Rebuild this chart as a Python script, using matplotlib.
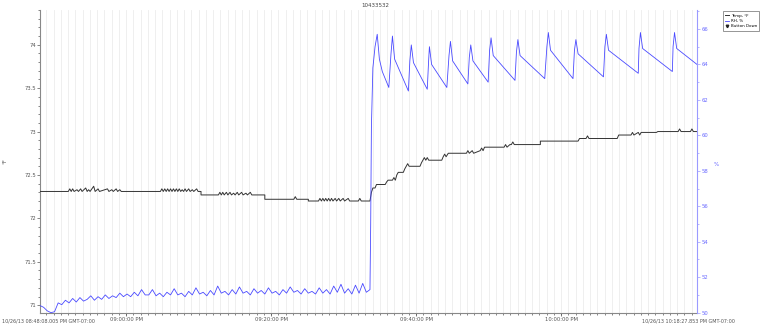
import matplotlib
matplotlib.use("Agg")
import matplotlib.pyplot as plt
from matplotlib.ticker import MultipleLocator

# x values are minutes since 10/26/13 08:48:08 PM
title = "10433532"
start_label = "10/26/13 08:48:08.005 PM GMT-07:00"
end_label = "10/26/13 10:18:27.853 PM GMT-07:00"
x_major_min = [11.87, 31.87, 51.87, 71.87]
x_major_labels = ["09:00:00 PM", "09:20:00 PM", "09:40:00 PM", "10:00:00 PM"]
x_end = 90.6

temp_t = [0, 3.9, 4.1, 4.3, 4.5, 4.7, 5.1, 5.3, 5.6, 5.8, 6.3, 6.5, 6.7, 6.9, 7.4, 7.6, 8.0, 8.2,
          9.3, 9.5, 9.9, 10.1, 10.5, 10.7, 11.0, 11.2,
          16.6, 16.8, 17.0, 17.2, 17.4, 17.6, 17.8, 18.0, 18.2, 18.4, 18.6, 18.8, 19.0, 19.2, 19.4,
          19.6, 19.8, 20.0, 20.2, 20.5, 20.7, 21.0, 21.2, 21.6, 21.8, 22.2, 22.2,
          24.6, 24.8, 25.0, 25.2, 25.4, 25.7, 25.9, 26.2, 26.4, 26.7, 26.9, 27.2, 27.4, 27.8, 28.0,
          28.4, 28.6, 29.0, 29.2, 31.0, 31.0,
          35.0, 35.2, 35.4, 37.0, 37.0,
          38.4, 38.6, 38.8, 39.0, 39.2, 39.4, 39.6, 39.8, 40.0, 40.2, 40.4, 40.7, 40.9, 41.2, 41.4,
          41.8, 42.0, 42.5, 42.7, 43.9, 44.1, 44.3, 45.5,
          45.7, 45.9, 46.2, 46.4, 47.6, 47.8, 48.0, 48.6, 48.8, 49.0, 49.2, 49.4, 50.1, 50.3, 50.5,
          50.7, 50.9, 52.4, 52.6, 52.8, 53.0, 53.2, 53.4, 53.6, 55.4, 55.6, 55.8, 56.0, 56.3, 58.8,
          59.0, 59.2, 59.6, 59.8, 60.7, 60.9, 61.1, 61.3, 64.0, 64.2, 64.4, 64.8, 65.0, 65.2, 65.4,
          69.0, 69.0, 74.2, 74.4, 75.3, 75.5, 75.7, 79.6, 79.8, 81.5, 81.7, 81.9, 82.5, 82.7, 82.9,
          83.2, 85.0, 85.2, 88.0, 88.2, 88.4, 89.7, 89.9, 90.1, 90.6]
temp_v = [72.31, 72.31, 72.34, 72.31, 72.34, 72.31, 72.33, 72.31, 72.34, 72.31, 72.35, 72.31, 72.33,
          72.31, 72.37, 72.31, 72.34, 72.31,
          72.34, 72.31, 72.33, 72.31, 72.34, 72.31, 72.33, 72.31,
          72.31, 72.34, 72.31, 72.34, 72.31, 72.34, 72.31, 72.34, 72.31, 72.34, 72.31, 72.34, 72.31,
          72.34, 72.31, 72.33, 72.31, 72.34, 72.31, 72.34, 72.31, 72.33, 72.31, 72.34, 72.31, 72.31,
          72.27,
          72.27, 72.30, 72.27, 72.30, 72.27, 72.30, 72.27, 72.30, 72.27, 72.29, 72.27, 72.30, 72.27,
          72.30, 72.27, 72.29, 72.27, 72.30, 72.27, 72.27, 72.22,
          72.22, 72.25, 72.22, 72.22, 72.20,
          72.20, 72.23, 72.20, 72.23, 72.20, 72.23, 72.20, 72.23, 72.20, 72.23, 72.20, 72.23, 72.20,
          72.23, 72.20, 72.23, 72.20, 72.23, 72.20, 72.20, 72.23, 72.20, 72.20,
          72.30, 72.35, 72.35, 72.39, 72.39, 72.42, 72.44, 72.44, 72.47, 72.44, 72.50, 72.53, 72.53,
          72.57, 72.60, 72.63, 72.60, 72.60, 72.64, 72.67, 72.70, 72.67, 72.70, 72.67, 72.67, 72.71,
          72.74, 72.71, 72.75, 72.75, 72.78, 72.75, 72.78, 72.75, 72.78, 72.81, 72.78, 72.82, 72.82,
          72.85, 72.82, 72.85, 72.85, 72.88, 72.85, 72.85, 72.89, 72.89, 72.92, 72.92, 72.95, 72.92,
          72.92, 72.96, 72.96, 72.99, 72.96, 72.99, 72.96, 72.99, 72.99, 72.99, 73.00, 73.00, 73.03,
          73.00, 73.00, 73.03, 73.00, 73.00]

# RH before the jump, sampled every half minute from 0 to 45.5
rh_pre = [50.40, 50.30, 50.10, 50.00, 50.05, 50.55, 50.45, 50.70, 50.55, 50.80,
          50.60, 50.85, 50.65, 50.75, 50.95, 50.70, 50.90, 50.75, 51.00, 50.80,
          50.95, 50.85, 51.10, 50.90, 51.05, 50.90, 51.15, 50.95, 51.30, 51.00,
          51.00, 51.30, 50.95, 51.10, 50.90, 51.15, 51.00, 51.35, 51.00, 51.10,
          50.90, 51.20, 51.00, 51.40, 51.05, 51.15, 50.95, 51.25, 51.00, 51.50,
          51.10, 51.20, 51.00, 51.30, 51.05, 51.45, 51.10, 51.20, 51.00, 51.35,
          51.10, 51.25, 51.05, 51.40, 51.10, 51.20, 51.00, 51.30, 51.10, 51.45,
          51.15, 51.25, 51.05, 51.35, 51.10, 51.20, 51.05, 51.40, 51.10, 51.30,
          51.05, 51.50, 51.15, 51.60, 51.10, 51.35, 51.05, 51.55, 51.10, 51.65,
          51.15, 51.30]
rh_pre_t = [i * 0.5 for i in range(len(rh_pre))]

rh_post_t = [45.6, 45.7, 45.9, 46.2, 46.5, 46.8, 47.2, 48.1,
             48.4, 48.6, 48.9, 50.8, 51.0, 51.2, 51.5, 53.4, 53.6, 53.7, 54.0, 56.1,
             56.4, 56.6, 56.9, 59.0, 59.2, 59.4, 59.7, 61.8, 62.0, 62.2, 62.5, 65.5,
             65.7, 65.9, 66.2, 69.6, 69.9, 70.1, 70.4, 73.5, 73.7, 73.9, 74.2, 77.7,
             77.9, 78.1, 78.4, 82.5, 82.6, 82.8, 83.1, 87.2, 87.3, 87.5, 87.8, 90.6]
rh_post_v = [55.0, 60.5, 63.8, 65.0, 65.7, 64.3, 63.6, 62.7,
             64.6, 65.6, 64.3, 62.5, 64.2, 65.1, 64.1, 62.6, 64.3, 65.0, 64.0, 62.7,
             64.5, 65.3, 64.2, 62.9, 64.4, 65.1, 64.2, 63.0, 64.8, 65.5, 64.5, 63.1,
             64.7, 65.4, 64.5, 63.2, 65.0, 65.8, 64.8, 63.2, 64.8, 65.4, 64.6, 63.3,
             65.0, 65.7, 64.8, 63.5, 64.9, 65.8, 64.9, 63.6, 65.0, 65.8, 64.9, 64.0]

GRID = "#ececec"
BLUE = "#4a4aff"
AXIS_BLUE = "#9a9aff"
GREY = "#888888"

fig = plt.figure(figsize=(7.61, 3.27), dpi=100)
ax = fig.add_axes([0.0526, 0.0428, 0.8633, 0.9266])
ax2 = ax.twinx()

# one grid line per minute
first_minute = 0.867
grid_x = [first_minute + i for i in range(int(x_end - first_minute) + 1)]
for gx in grid_x:
    ax.axvline(gx, color=GRID, lw=0.6, zorder=0)

h_temp, = ax.plot(temp_t, temp_v, color="#333333", lw=0.7, label="Temp, °F", zorder=3)
h_rh, = ax2.plot(rh_pre_t + rh_post_t, rh_pre + rh_post_v, color=BLUE, lw=0.6, label="RH, %")
h_btn, = ax.plot([], [], "v", color="#222222", markersize=1.8, label="Button Down")

ax.set_xlim(0, x_end)
ax.set_ylim(70.91, 74.40)
ax2.set_ylim(49.98, 67.07)

ax.set_xticks(grid_x, minor=True)
ax.set_xticks(x_major_min)
ax.set_xticklabels(x_major_labels)
ax.yaxis.set_major_locator(MultipleLocator(0.5))
ax.yaxis.set_minor_locator(MultipleLocator(0.1))
ax2.yaxis.set_major_locator(MultipleLocator(2))
ax2.yaxis.set_minor_locator(MultipleLocator(1))
ax.yaxis.set_major_formatter(plt.FuncFormatter(lambda v, p: f"{v:g}"))

for a in (ax, ax2):
    for s in a.spines.values():
        s.set_visible(False)
ax.spines["left"].set_visible(True)
ax.spines["left"].set_color(GREY)
ax.spines["bottom"].set_visible(True)
ax.spines["bottom"].set_color(GREY)
ax2.spines["right"].set_visible(True)
ax2.spines["right"].set_color(AXIS_BLUE)

ax.tick_params(axis="both", which="both", labelsize=3.8, colors="#555555", length=2, width=0.5, pad=1)
ax.tick_params(axis="both", which="minor", length=1.5)
ax2.tick_params(axis="y", which="both", labelsize=3.8, colors=AXIS_BLUE, labelcolor="#6a6aff",
                length=2, width=0.5, pad=1)
ax2.tick_params(axis="y", which="minor", length=1.5)

ax.set_ylabel("°F", fontsize=4, color="#555555", labelpad=12)
ax2.set_ylabel("%", fontsize=4, color="#6a6aff", labelpad=6, rotation=0)

fig.text(0.493, 0.99, title, ha="center", va="top", fontsize=4, color="#444444")
fig.text(0.003, 0.01, start_label, ha="left", va="bottom", fontsize=3.5, color="#555555")
fig.text(0.966, 0.01, end_label, ha="right", va="bottom", fontsize=3.5, color="#555555")

leg = fig.legend([h_temp, h_rh, h_btn], ["Temp, °F", "RH, %", "Button Down"],
                 loc="upper left", bbox_to_anchor=(0.950, 0.966), fontsize=2.9, frameon=True,
                 fancybox=False, handlelength=1.0, borderpad=0.6, labelspacing=0.35,
                 handletextpad=0.3, borderaxespad=0)
leg.get_frame().set_edgecolor("#666666")
leg.get_frame().set_linewidth(0.6)

fig.savefig("out.png", dpi=100)
